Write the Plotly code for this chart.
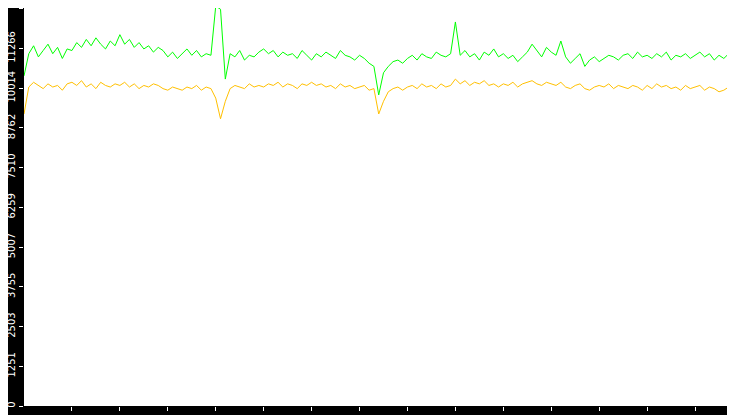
import pandas as pd
import plotly.graph_objects as go

# 6-second samples from 14:00:00 to 14:15:00
green = [
    10400, 11100, 11350, 11000, 11200, 11400, 11100, 11300, 10950, 11250,
    11200, 11450, 11300, 11550, 11350, 11600, 11400, 11250, 11500, 11350,
    11700, 11400, 11550, 11300, 11450, 11250, 11350, 11150, 11300, 11200,
    11000, 11150, 10950, 11100, 11250, 11050, 11200, 11000, 11100, 11050,
    12600, 12500, 10300, 11100, 11000, 11200, 10900, 11050, 11000, 11150,
    11250, 11100, 11200, 11000, 11150, 11050, 11100, 10950, 11200, 11050,
    10900, 11100, 11000, 11150, 11050, 10950, 11200, 11050, 11000, 10900,
    11050, 10950, 10800, 10700, 9800, 10500, 10700, 10850, 10900, 10800,
    10950, 11050, 10900, 11100, 11000, 10950, 11150, 11050, 11000, 11100,
    12100, 11050, 11200, 11000, 11100, 10900, 11150, 11050, 11250, 11000,
    11100, 10950, 11050, 10850, 11000, 11150, 11400, 11200, 11000, 11300,
    11150, 11050, 11500, 11000, 10800, 10950, 11100, 10700, 10900, 11000,
    10850, 10950, 11050, 11000, 10900, 11050, 11100, 10950, 11150, 11000,
    11050, 10950, 11100, 11000, 11150, 10900, 11050, 11000, 11100, 10950,
    11050, 11150, 11000, 11100, 10900, 11050, 10950, 11100, 11000, 10900, 5007,
]
yellow = [
    9200, 10050, 10200, 10100, 10000, 10150, 10050, 10100, 9950, 10150,
    10200, 10100, 10250, 10050, 10150, 10000, 10200, 10100, 10050, 10150,
    10100, 10200, 10050, 10150, 10000, 10100, 10050, 10150, 10100, 10000,
    9950, 10050, 10000, 9950, 10050, 10000, 10100, 9950, 10050, 10000,
    9700, 9050, 9600, 10000, 10100, 10050, 10000, 10150, 10050, 10100,
    10050, 10150, 10100, 10200, 10050, 10150, 10100, 10000, 10150, 10100,
    10200, 10100, 10150, 10050, 10100, 10000, 10150, 10050, 10100, 10000,
    10050, 10100, 9950, 10000, 9200, 9600, 9900, 10000, 10050, 9950,
    10050, 10100, 10000, 10150, 10050, 10100, 10000, 10150, 10050, 10100,
    10300, 10150, 10250, 10100, 10200, 10150, 10250, 10100, 10150, 10050,
    10150, 10100, 10200, 10050, 10150, 10200, 10250, 10150, 10100, 10200,
    10150, 10100, 10200, 10050, 10000, 10100, 10150, 10000, 9950, 10050,
    10100, 10050, 10150, 10000, 10100, 10050, 10000, 10100, 10050, 9950,
    10100, 10000, 10150, 10050, 10100, 10000, 10050, 9950, 10100, 10000,
    10050, 10100, 9950, 10050, 10000, 9900, 9950, 10050, 10000, 9950, 0,
]
y_ticks = [0, 1251, 2503, 3755, 5007, 6259, 7510, 8762, 10014, 11266, 12518]
x_labels = ["14:01", "14:02", "14:03", "14:04", "14:05", "14:06", "14:07",
            "14:08", "14:09", "14:10", "14:11", "14:12", "14:13", "14:14"]

times = pd.date_range("2024-01-01 14:00:00", periods=len(green), freq="6s")
x_ticks = [pd.Timestamp("2024-01-01 " + s) for s in x_labels]

fig = go.Figure()
fig.add_trace(go.Scatter(x=times, y=green, mode="lines",
                         line=dict(color="#00ff00", width=1)))
fig.add_trace(go.Scatter(x=times, y=yellow, mode="lines",
                         line=dict(color="#ffc000", width=1)))

fig.update_layout(
    width=735, height=415,
    margin=dict(l=16, r=0, t=0, b=17),
    paper_bgcolor="black", plot_bgcolor="white",
    showlegend=False,
    font=dict(family="DejaVu Sans", size=10, color="white"),
    xaxis=dict(range=[times[0], times[-1]], tickvals=x_ticks, ticktext=x_labels,
               ticks="outside", ticklen=4, tickcolor="white", showgrid=False,
               zeroline=False, automargin=False),
    yaxis=dict(range=[0, 12540], tickvals=y_ticks,
               ticktext=[str(v) for v in y_ticks], tickangle=-90,
               ticks="outside", ticklen=4, tickcolor="white", showgrid=False,
               zeroline=False, automargin=False),
)

fig.write_html("out.html")
